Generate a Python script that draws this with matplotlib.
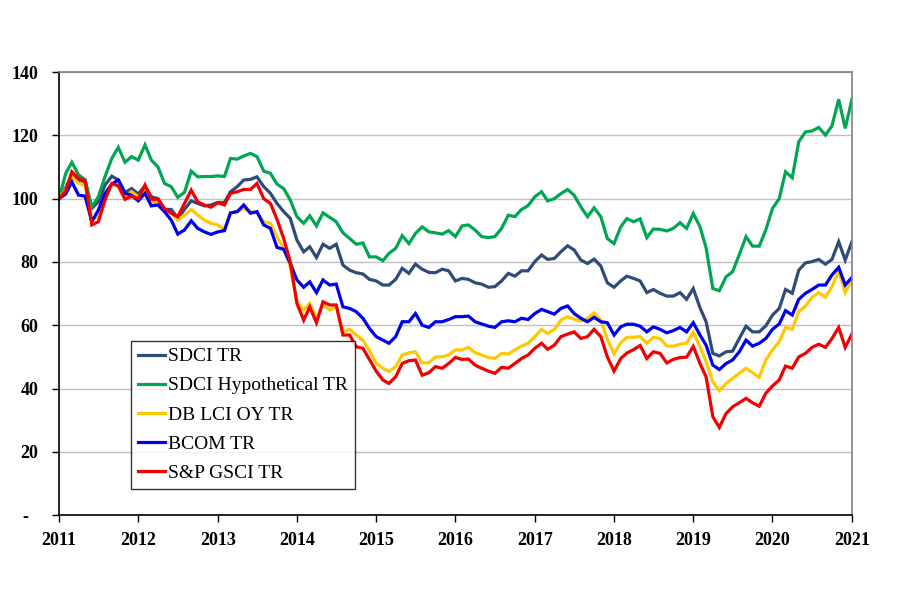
import matplotlib
matplotlib.use("Agg")
import matplotlib.pyplot as plt
import numpy as np
import pandas as pd

dates = pd.date_range("2011-01-01", periods=121, freq="MS")

sdci_tr = [100, 103.5, 107.5, 105.9, 105.3, 96.9, 99, 104.3, 107.1, 105.9, 101.9, 103.2,
           101.5, 104, 100.6, 100, 96.6, 96.6, 93.8, 96.6, 99.3, 98.5, 97.7, 98,
           98.8, 98.8, 102.2, 103.8, 105.9, 106.1, 106.9, 103.8, 101.7, 98.5, 95.9, 93.8,
           86.9, 83.2, 84.8, 81.4, 85.6, 84.3, 85.6, 79, 77.4, 76.6, 76.2, 74.5,
           74, 72.7, 72.7, 74.5, 78, 76.4, 79.3, 77.7, 76.7, 76.6, 77.7, 77.2,
           74, 74.8, 74.5, 73.4, 73, 72, 72.2, 74, 76.4, 75.5, 77.2, 77.2,
           80.1, 82.2, 80.8, 81.1, 83.2, 85.1, 83.8, 80.6, 79.5, 80.9, 78.7, 73.4,
           72, 74, 75.5, 74.8, 74, 70.3, 71.3, 70.1, 69.2, 69.2, 70.3, 68.2,
           71.6, 65.5, 61.1, 51.1, 50.3, 51.6, 51.8, 55.8, 59.7, 57.9, 57.9, 59.8,
           63.2, 65.3, 71.3, 70.1, 77.4, 79.7, 80.1, 80.8, 79.3, 80.8, 86.4, 80.6,
           86.4]

sdci_hyp = [100, 108, 111.5, 107.5, 106, 97.4, 100.6, 107, 112.7, 116.2, 111.5, 113.3,
            112.2, 117, 112.2, 110, 104.8, 103.8, 100.4, 102, 108.7, 106.9, 107, 107,
            107.2, 107, 112.7, 112.5, 113.5, 114.3, 113.3, 108.7, 108, 104.6, 103.2, 99.6,
            94.3, 92.2, 94.6, 91.4, 95.5, 94.1, 92.7, 89.2, 87.4, 85.6, 86, 81.6,
            81.6, 80.4, 82.7, 84.3, 88.3, 85.8, 89, 91.1, 89.5, 89.2, 88.8, 89.9,
            88, 91.4, 91.7, 90.1, 88, 87.7, 88, 90.6, 94.8, 94.3, 96.6, 97.8,
            100.6, 102.2, 99.3, 100, 101.6, 102.9, 101.1, 97.4, 94.3, 97.1, 94.3, 87.4,
            85.8, 91.1, 93.7, 92.7, 93.6, 87.7, 90.4, 90.3, 89.8, 90.6, 92.4, 90.6,
            95.3, 91.1, 84.5, 71.6, 70.9, 75.3, 76.9, 82.3, 88, 85, 85, 90.1,
            96.9, 100, 108.5, 106.6, 118, 121.1, 121.4, 122.5, 120.1, 123, 131.4, 122.2,
            131.4]

db_lci = [100, 103, 106.9, 104.8, 104.3, 93.2, 94.3, 101.1, 104.8, 104.3, 100.6, 102.2,
          100.6, 102.7, 99, 98.5, 96.4, 95.4, 93.2, 94.8, 96.6, 94.8, 93.2, 92.2,
          91.7, 90.3, 95.5, 95.9, 96.9, 95.9, 95.4, 92.7, 92.2, 88, 84.3, 78.5,
          67.4, 64.8, 66.9, 62.2, 66.4, 64.8, 65.8, 57.9, 58.7, 56.9, 55.3, 52,
          48, 46.4, 45.3, 46.9, 50.6, 51.3, 51.6, 48.1, 48.1, 50, 50, 50.6,
          52.2, 52.2, 53, 51.3, 50.6, 49.8, 49.5, 51.1, 50.9, 52.2, 53.4, 54.3,
          56.4, 58.7, 57.4, 58.7, 61.6, 62.7, 61.9, 61.3, 62.2, 63.9, 61.6, 55.5,
          51, 54.5, 56.2, 56.2, 56.4, 54.3, 56.2, 55.8, 53.4, 53.4, 54, 54.3,
          57.8, 53.2, 48.5, 42.1, 39.3, 41.6, 43.2, 44.8, 46.4, 45, 43.5, 49,
          52.2, 54.8, 59.3, 58.7, 64.3, 66.1, 68.8, 70.3, 68.8, 72.2, 77.2, 70.3,
          74.3]

bcom = [100, 101.5, 105.3, 101.1, 100.8, 92.7, 96.4, 101.7, 104.6, 105.9, 101.7, 101.1,
        99.3, 101.7, 97.7, 98, 95.9, 93.2, 88.8, 90.1, 93, 90.6, 89.5, 88.7,
        89.5, 89.9, 95.5, 95.9, 98, 95.4, 95.9, 91.7, 90.6, 84.6, 84, 79.6,
        74.3, 72, 73.7, 70.3, 74.3, 72.7, 73, 65.8, 65.3, 64.3, 62.2, 59,
        56.4, 55.3, 54.3, 56.4, 61.1, 61.1, 63.7, 60, 59.3, 61.1, 61.1, 61.8,
        62.7, 62.7, 62.9, 61.1, 60.4, 59.7, 59.3, 61.1, 61.4, 61.1, 62.2, 61.8,
        63.7, 65, 64.3, 63.5, 65.3, 66.1, 63.7, 62.2, 61.1, 62.5, 61.1, 60.8,
        56.9, 59.5, 60.3, 60.3, 59.7, 57.9, 59.5, 58.7, 57.6, 58.3, 59.3, 57.9,
        60.8, 56.9, 53.7, 47.4, 46, 47.9, 49, 51.6, 55.3, 53.4, 54.3, 55.8,
        58.7, 60.4, 64.6, 63.2, 68.2, 70.1, 71.3, 72.7, 72.7, 75.9, 78.3, 72.7,
        75.1]

gsci = [100, 102.5, 108.5, 106.4, 105.7, 91.7, 92.7, 99.6, 104.8, 104, 99.8, 100.8,
        100, 104.3, 99.8, 99.8, 96.9, 95.4, 94.3, 98.5, 102.7, 99, 98, 97.3,
        98.7, 98, 101.7, 102.2, 102.9, 102.9, 104.8, 100, 98.5, 93.5, 87.4, 80.1,
        66.9, 61.6, 65.8, 60.8, 67.4, 66.4, 66.4, 56.9, 56.9, 53.2, 52.7, 49.2,
        45.5, 42.7, 41.6, 43.7, 47.9, 48.8, 49, 44.2, 45, 46.9, 46.4, 47.9,
        49.8, 49.2, 49.3, 47.4, 46.4, 45.5, 44.8, 46.7, 46.4, 47.9, 49.5, 50.6,
        52.7, 54.3, 52.4, 53.7, 56.4, 57.2, 57.9, 55.8, 56.4, 58.7, 56.4, 50,
        45.5, 49.5, 51.2, 52.3, 53.6, 49.5, 51.6, 51.1, 48.1, 49.2, 49.8, 49.9,
        53.3, 47.9, 43.7, 31.1, 27.7, 32.1, 34.2, 35.5, 36.9, 35.5, 34.4, 38.5,
        40.8, 42.7, 47.1, 46.4, 50, 51.1, 53, 54, 53, 55.8, 59.3, 53,
        57.2]

series_names = ["SDCI TR", "SDCI Hypothetical TR", "DB LCI OY TR", "BCOM TR", "S&P GSCI TR"]
series_values = [sdci_tr, sdci_hyp, db_lci, bcom, gsci]
colors = ["#2E4B7A", "#00A651", "#FFC800", "#0000EE", "#F00000"]

year_ticks = list(range(2011, 2022))
y_ticks = [0, 20, 40, 60, 80, 100, 120, 140]

serif = ["Liberation Serif", "DejaVu Serif"]

fig = plt.figure(figsize=(9, 6.11), dpi=100)
ax = fig.add_axes([0.0656, 0.157, 0.881, 0.725])

for name, vals, c in zip(series_names, series_values, colors):
    ax.plot(dates, vals, color=c, lw=2.3, label=name, solid_joinstyle="miter")

ax.set_ylim(0, 140)
ax.set_xlim(pd.Timestamp("2011-01-01"), pd.Timestamp("2021-01-01"))
ax.set_yticks(y_ticks)
ax.set_yticklabels(["-  " if v == 0 else str(v) for v in y_ticks],
                   fontfamily=serif, fontweight="bold", fontsize=13)
xt = [pd.Timestamp(f"{y}-01-01") for y in year_ticks]
ax.set_xticks(xt)
ax.set_xticklabels([str(y) for y in year_ticks], fontfamily=serif,
                   fontweight="bold", fontsize=13)

ax.tick_params(axis="both", direction="out", length=5, width=1, color="black")
ax.tick_params(axis="y", pad=10)
ax.tick_params(axis="x", pad=7)
ax.grid(axis="y", color="#C0C0C0", lw=1)
ax.set_axisbelow(True)
ax.spines["left"].set_color("black")
ax.spines["bottom"].set_color("black")
ax.spines["top"].set_color("#808080")
ax.spines["right"].set_color("#808080")
for s in ax.spines.values():
    s.set_linewidth(1.2)

leg = ax.legend(loc="upper left", bbox_to_anchor=(0.0908, 0.393), borderaxespad=0,
                prop={"family": serif, "size": 14}, handlelength=1.4,
                handletextpad=0.15, labelspacing=0.59, borderpad=0.35,
                fancybox=False, frameon=True, edgecolor="black")
leg.get_frame().set_linewidth(1.0)

fig.savefig("out.png", dpi=100)
